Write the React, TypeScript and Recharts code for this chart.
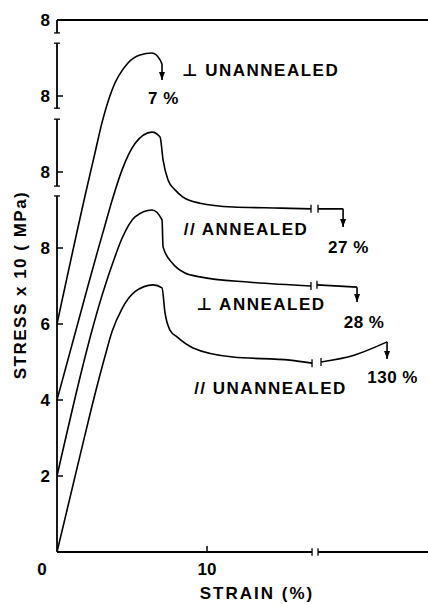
import React from 'react';
import { LineChart, Line, XAxis, YAxis, ReferenceLine, ReferenceDot } from 'recharts';

// strain (%) read on the broken axis; points after 17.2 sit on the compressed part
// each curve is shifted up by its offset (stress x 10, MPa)
const parUnStrain = [0, 1.67, 2.53, 3.2, 3.67, 4.33, 5.2, 6.4, 7.0, 7.2, 7.53, 8.0, 9.07, 11.73, 15.53, 17.0, 17.2, 17.6, 19.8, 22.0];
const parUnStress = [0, 2.76, 4.15, 5.15, 5.8, 6.4, 6.85, 7.03, 6.95, 6.29, 5.84, 5.66, 5.37, 5.13, 5.05, 4.97, null, 5.0, 5.18, 5.53];

const perAnStrain = [0, 3.2, 3.67, 4.33, 5.2, 6.33, 7.0, 7.07, 7.67, 8.53, 9.53, 12.87, 16.93, 17.2, 17.33, 20.0];
const perAnStress = [0, 5.0, 5.55, 6.25, 6.82, 7.0, 6.74, 6.03, 5.61, 5.34, 5.24, 5.1, 5.0, null, 5.03, 4.97];

const parAnStrain = [0, 2.13, 2.73, 3.2, 3.67, 4.33, 5.2, 6.33, 6.87, 7.07, 7.4, 7.87, 8.4, 9.53, 11.73, 14.93, 16.93, 17.2, 17.4, 19.07];
const parAnStress = [0, 3.1, 3.95, 4.6, 5.25, 6.05, 6.75, 7.05, 6.92, 6.32, 5.79, 5.53, 5.34, 5.18, 5.08, 5.05, 5.03, null, 5.03, 5.03];

const perUnStrain = [0, 2.0, 2.53, 3.0, 3.67, 4.73, 5.53, 6.33, 6.87, 7.0];
const perUnStress = [0, 3.6, 4.5, 5.3, 6.16, 6.87, 7.08, 7.13, 6.95, 6.84];

// failure: strain where the arrow drops, stress at arrow tip
const curveNames = ['// UNANNEALED', '⊥ ANNEALED', '// ANNEALED', '⊥ UNANNEALED'];
const curveOffsets = [0, 2, 4, 6];
const failStrain = [22.0, 20.0, 19.07, 7.0];
const failStress = [5.08, 4.58, 4.55, 6.42];
const elongLabels = ['130 %', '28 %', '27 %', '7 %'];

const yTicks = [2, 4, 6, 8, 10, 12, 14];
const yTickLabels = ['2', '4', '6', '8', '8', '8', '8'];
const xTicks = [0, 10];
const xTickLabels = ['0', '10'];

// axis breaks (plot units)
const yGaps = [[9.37, 9.63], [11.39, 11.68], [13.39, 13.66]];
const xGap = [17.0, 17.4];
const X_MAX = 24.73;
const Y_MAX = 14;

// annotation placement
const nameX = [14.23, 13.6, 12.6, 13.57];
const nameY = [4.32, 6.53, 8.5, 12.68];
const elongX = [22.37, 20.47, 19.43, 7.1];
const elongY = [4.6, 6.05, 8.03, 11.95];

const FONT = '"Liberation Sans", Arial, "DejaVu Sans", sans-serif';

const build = (strain: number[], stress: (number | null)[], off: number) =>
  strain.map((s, i) => ({ strain: s, y: stress[i] === null ? null : (stress[i] as number) + off }));

const curves = [
  build(parUnStrain, parUnStress, curveOffsets[0]),
  build(perAnStrain, perAnStress, curveOffsets[1]),
  build(parAnStrain, parAnStress, curveOffsets[2]),
  build(perUnStrain, perUnStress, curveOffsets[3]),
];

const arrows = curves.map((c, i) => [
  { strain: failStrain[i], y: c[c.length - 1].y },
  { strain: failStrain[i], y: failStress[i] + curveOffsets[i] },
]);

const breakDot = (data: { strain: number; y: number | null }[], key: string) => (p: any) => {
  const { cx, cy, index } = p;
  const gapNext = index + 1 < data.length && data[index + 1].y === null;
  const gapPrev = index > 0 && data[index - 1].y === null;
  if (!(gapNext || gapPrev) || cy == null) return <g key={`${key}-${index}`} />;
  return <line key={`${key}-${index}`} x1={cx} x2={cx} y1={cy - 4} y2={cy + 4} stroke="#000" strokeWidth={1.3} />;
};

const arrowHead = (key: string) => (p: any) => {
  const { cx, cy, index } = p;
  if (index !== 1) return <g key={`${key}-${index}`} />;
  return <path key={`${key}-${index}`} d={`M${cx - 3},${cy - 8} L${cx + 3},${cy - 8} L${cx},${cy} Z`} fill="#000" />;
};

const textAt = (value: string, size = 17, spacing = 0) => (p: any) => {
  const vb = p.viewBox;
  return (
    <text x={vb.x} y={vb.y} dy="0.36em" textAnchor="middle" fontFamily={FONT} fontSize={size}
      fontWeight={700} letterSpacing={spacing} fill="#000">{value}</text>
  );
};

const YTick = (props: any) => {
  const { x, y, payload } = props;
  const label = yTickLabels[yTicks.indexOf(payload.value)];
  return (
    <g>
      <line x1={x} x2={x + 6} y1={y} y2={y} stroke="#000" strokeWidth={1.5} />
      <text x={x - 7} y={y} dy="0.36em" textAnchor="end" fontFamily={FONT} fontSize={17} fontWeight={700} fill="#000">{label}</text>
    </g>
  );
};

const XTick = (props: any) => {
  const { x, y, payload } = props;
  const label = xTickLabels[xTicks.indexOf(payload.value)];
  const first = payload.value === 0;
  return (
    <g>
      {!first && <line x1={x} x2={x} y1={y} y2={y - 6} stroke="#000" strokeWidth={1.5} />}
      <text x={first ? x - 15 : x} y={y + 17} dy="0.36em" textAnchor="middle" fontFamily={FONT} fontSize={17} fontWeight={700} fill="#000">{label}</text>
    </g>
  );
};

const ySegments: [number, number][] = [];
{
  let start = 0;
  yGaps.forEach(([a, b]) => { ySegments.push([start, a]); start = b; });
  ySegments.push([start, Y_MAX]);
}

export default function App() {
  return (
    <div style={{ position: 'absolute', left: 0, top: 0, width: 428, height: 604, background: '#fff' }}>
      <LineChart width={428} height={604} margin={{ top: 20, right: 0, bottom: 0, left: 0 }}>
        <XAxis type="number" dataKey="strain" domain={[0, X_MAX]} ticks={xTicks} allowDataOverflow
          axisLine={false} tickLine={false} tickSize={0} tickMargin={0} height={52} tick={<XTick />}
          label={{ content: (p: any) => {
            const vb = p.viewBox;
            return <text x={vb.x + 200} y={vb.y + 41} dy="0.36em" textAnchor="middle" fontFamily={FONT}
              fontSize={17} fontWeight={700} letterSpacing={2} fill="#000">STRAIN (%)</text>;
          } }} />
        <YAxis type="number" domain={[0, Y_MAX]} ticks={yTicks} allowDataOverflow width={57}
          axisLine={false} tickLine={false} tickSize={0} tickMargin={0} tick={<YTick />}
          label={{ content: (p: any) => {
            const vb = p.viewBox;
            const cx = vb.x + 20;
            const cy = vb.y + vb.height / 2 - 1;
            return <text x={cx} y={cy} dy="0.36em" textAnchor="middle" transform={`rotate(-90 ${cx} ${cy})`}
              fontFamily={FONT} fontSize={17} fontWeight={700} letterSpacing={1.5} fill="#000">STRESS x 10 ( MPa)</text>;
          } }} />

        {/* frame: top line, broken left and bottom axes */}
        <ReferenceLine y={Y_MAX} stroke="#000" strokeWidth={1.8} ifOverflow="visible" />
        {ySegments.map(([a, b], i) => (
          <ReferenceLine key={`ys-${i}`} segment={[{ x: 0, y: a }, { x: 0, y: b }]} stroke="#000" strokeWidth={1.8} ifOverflow="visible" />
        ))}
        {yGaps.flat().map((v, i) => (
          <ReferenceLine key={`yg-${i}`} segment={[{ x: -0.2, y: v }, { x: 0.2, y: v }]} stroke="#000" strokeWidth={1.3} ifOverflow="visible" />
        ))}
        <ReferenceLine segment={[{ x: 0, y: 0 }, { x: xGap[0], y: 0 }]} stroke="#000" strokeWidth={1.8} ifOverflow="visible" />
        <ReferenceLine segment={[{ x: xGap[1], y: 0 }, { x: X_MAX, y: 0 }]} stroke="#000" strokeWidth={1.8} ifOverflow="visible" />
        {xGap.map((v, i) => (
          <ReferenceLine key={`xg-${i}`} segment={[{ x: v, y: -0.1 }, { x: v, y: 0.1 }]} stroke="#000" strokeWidth={1.3} ifOverflow="visible" />
        ))}

        {curves.map((c, i) => (
          <Line key={`c-${i}`} data={c} dataKey="y" type="monotone" stroke="#000" strokeWidth={1.6}
            dot={breakDot(c, `bd-${i}`)} activeDot={false} connectNulls={false} isAnimationActive={false} />
        ))}
        {arrows.map((a, i) => (
          <Line key={`a-${i}`} data={a} dataKey="y" type="linear" stroke="#000" strokeWidth={1.6}
            dot={arrowHead(`ah-${i}`)} activeDot={false} isAnimationActive={false} />
        ))}

        {curveNames.map((n, i) => (
          <ReferenceDot key={`n-${i}`} x={nameX[i]} y={nameY[i]} r={0} stroke="none" fill="none"
            label={{ content: textAt(n, 17, 1.5) }} />
        ))}
        {elongLabels.map((n, i) => (
          <ReferenceDot key={`e-${i}`} x={elongX[i]} y={elongY[i]} r={0} stroke="none" fill="none"
            label={{ content: textAt(n, 17, 0.5) }} />
        ))}
      </LineChart>
    </div>
  );
}
